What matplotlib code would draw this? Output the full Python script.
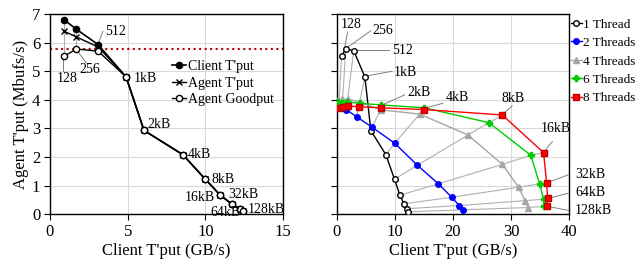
import numpy as np
import matplotlib.pyplot as plt

plt.rcParams['font.family'] = ['Liberation Serif', 'DejaVu Serif']

sizes = ['128', '256', '512', '1kB', '2kB', '4kB', '8kB', '16kB', '32kB', '64kB', '128kB']

# 左图：单线程
client_x = [0.9, 1.7, 3.1, 4.9, 6.05, 8.55, 10.0, 10.95, 11.7, 12.2, 12.4]
client_tput = [6.8, 6.47, 5.93, 4.8, 2.93, 2.08, 1.22, 0.67, 0.35, 0.18, 0.1]
agent_tput = [6.4, 6.2, 5.85, 4.8, 2.93, 2.08, 1.22, 0.67, 0.35, 0.18, 0.1]
agent_goodput = [5.52, 5.78, 5.7, 4.8, 2.93, 2.08, 1.22, 0.67, 0.35, 0.18, 0.1]
limit_line = 5.77

# 右图：多线程 (client GB/s, agent Mbufs/s)
t1_x = [0.86, 1.6, 2.95, 4.88, 5.9, 8.48, 9.97, 10.9, 11.6, 12.1, 12.3]
t1_y = [5.53, 5.79, 5.72, 4.8, 2.92, 2.08, 1.22, 0.66, 0.36, 0.19, 0.08]
t2_x = [0.4, 0.95, 1.7, 3.44, 6.12, 10.0, 13.9, 17.5, 19.8, 21.1, 21.8]
t2_y = [3.76, 3.73, 3.65, 3.41, 3.04, 2.48, 1.71, 1.06, 0.59, 0.30, 0.15]
t4_x = [0.25, 1.0, 2.0, 4.0, 7.56, 14.3, 22.6, 28.5, 31.3, 32.4, 32.9]
t4_y = [4.0, 4.02, 4.02, 3.92, 3.65, 3.5, 2.77, 1.74, 0.94, 0.47, 0.23]
t6_x = [0.3, 1.0, 1.85, 3.95, 7.65, 15.1, 26.2, 33.4, 34.9, 35.6, 35.7]
t6_y = [3.92, 3.9, 3.92, 3.88, 3.82, 3.72, 3.2, 2.06, 1.06, 0.52, 0.27]
t8_x = [0.35, 1.15, 1.95, 3.8, 7.6, 15.0, 28.5, 35.6, 36.1, 36.3, 36.2]
t8_y = [3.72, 3.76, 3.78, 3.76, 3.72, 3.66, 3.47, 2.15, 1.1, 0.55, 0.27]

# 标注位置
left_lbl_pos = {'128': (1.1, 4.76), '256': (2.55, 5.05), '512': (4.2, 6.4),
                '1kB': (5.4, 4.76), '2kB': (6.3, 3.15), '4kB': (8.9, 2.1),
                '8kB': (10.4, 1.2), '16kB': (10.6, 0.58), '32kB': (11.5, 0.67),
                '64kB': (10.3, 0.07), '128kB': (12.75, 0.17)}
left_lbl_ha = {'128': 'center', '256': 'center', '512': 'center', '16kB': 'right',
               '64kB': 'left'}
left_leaders = {'128': [(0.86, 5.45), (0.86, 5.0)],
                '256': [(1.75, 5.72), (2.35, 5.28)],
                '512': [(3.1, 5.95), (3.4, 6.4)]}

right_lbl_pos = {'128': (0.7, 6.63), '256': (6.1, 6.42), '512': (9.5, 5.73),
                 '1kB': (9.9, 4.96), '2kB': (12.1, 4.26), '4kB': (18.7, 4.09),
                 '8kB': (28.4, 4.06), '16kB': (35.1, 3.0), '32kB': (41.0, 1.4),
                 '64kB': (41.0, 0.76), '128kB': (41.0, 0.13)}
right_leaders = {'128': [(1.3, 5.72), (1.9, 6.38)],
                 '256': [(1.8, 5.82), (5.9, 6.42)],
                 '512': [(3.2, 5.73), (9.0, 5.73)],
                 '1kB': [(5.1, 4.83), (9.55, 5.0)],
                 '2kB': [(7.7, 3.81), (11.7, 4.17)],
                 '4kB': [(15.1, 3.7), (18.3, 3.88)],
                 '8kB': [(28.6, 3.5), (30.2, 3.79)],
                 '16kB': [(35.7, 2.2), (37.1, 2.54)],
                 '32kB': [(36.2, 1.1), (39.8, 1.37)],
                 '64kB': [(36.4, 0.55), (39.8, 0.73)],
                 '128kB': [(36.3, 0.27), (39.8, 0.13)]}

fig = plt.figure(figsize=(6.41, 2.71), dpi=100)
ax1 = fig.add_axes([0.078, 0.210, 0.3635, 0.738])
ax2 = fig.add_axes([0.525, 0.210, 0.363, 0.738])

grid_c = '#d9d9d9'
iso_c = '#b0b0b0'
lead_c = '#808080'

for ax in (ax1, ax2):
    ax.set_ylim(0, 7)
    ax.set_yticks(range(0, 8))
    ax.grid(True, color=grid_c, linewidth=0.8)
    ax.set_axisbelow(True)
    ax.tick_params(direction='out', length=4, width=0.8, labelsize=12, pad=3)
    for s in ax.spines.values():
        s.set_linewidth(1.0)
    ax.set_xlabel("Client T'put (GB/s)", fontsize=12, labelpad=2)

# ---- 左图 ----
ax1.set_xlim(0, 15)
ax1.set_xticks([0, 5, 10, 15])
for i in range(3):
    ax1.plot([client_x[i]] * 3, [client_tput[i], agent_tput[i], agent_goodput[i]],
             color=iso_c, lw=0.8, zorder=1)
ax1.axhline(limit_line, color='#c00000', ls=':', lw=1.5, zorder=2)
ax1.plot(client_x, client_tput, '-o', color='black', ms=4.5, lw=1.2, label="Client T'put", zorder=3)
ax1.plot(client_x, agent_tput, '-x', color='black', ms=4.5, lw=1.0, mew=1.0, label="Agent T'put", zorder=3)
ax1.plot(client_x, agent_goodput, '-o', color='black', mfc='white', ms=4.5, lw=1.0,
         label="Agent Goodput", zorder=3)
for lbl, pts in left_leaders.items():
    ax1.plot([p[0] for p in pts], [p[1] for p in pts], color=lead_c, lw=0.7, zorder=2)
for lbl, (tx, ty) in left_lbl_pos.items():
    ax1.text(tx, ty, lbl, fontsize=10, ha=left_lbl_ha.get(lbl, 'left'), va='center', zorder=4)
ax1.set_ylabel("Agent T'put (Mbufs/s)", fontsize=12, labelpad=2)
ax1.legend(loc='upper left', bbox_to_anchor=(0.525, 0.77), frameon=False, fontsize=10,
           handlelength=1.0, handletextpad=0.1, labelspacing=0.25, borderpad=0, borderaxespad=0)

# ---- 右图 ----
ax2.set_xlim(0, 40)
ax2.set_xticks([0, 10, 20, 30, 40])
ax2.tick_params(axis='y', labelleft=False)
series_x = [t1_x, t2_x, t4_x, t6_x, t8_x]
series_y = [t1_y, t2_y, t4_y, t6_y, t8_y]
for i in range(len(sizes)):
    ax2.plot([sx[i] for sx in series_x], [sy[i] for sy in series_y], color=iso_c, lw=0.8, zorder=1)
for lbl, pts in right_leaders.items():
    ax2.plot([p[0] for p in pts], [p[1] for p in pts], color=lead_c, lw=0.7, zorder=1.5, clip_on=False)
ax2.plot(t1_x, t1_y, '-o', color='black', mfc='white', ms=4, lw=1.0, label='1 Thread', zorder=3)
ax2.plot(t2_x, t2_y, '-o', color='#0000ff', ms=4, lw=1.0, label='2 Threads', zorder=3)
ax2.plot(t4_x, t4_y, '-^', color='#a6a6a6', ms=5, lw=1.0, label='4 Threads', zorder=3)
ax2.plot(t6_x, t6_y, '-P', color='#00cc00', ms=4, lw=1.0, label='6 Threads', zorder=3)
ax2.plot(t8_x, t8_y, '-s', color='#ff0000', mec='#c00000', ms=4.5, lw=1.0, label='8 Threads', zorder=4)
for lbl, (tx, ty) in right_lbl_pos.items():
    ax2.text(tx, ty, lbl, fontsize=10, ha='left', va='center', zorder=5, clip_on=False)
ax2.legend(loc='upper left', bbox_to_anchor=(1.0, 0.985), frameon=False, fontsize=9.5,
           handlelength=0.9, handletextpad=0.05, labelspacing=0.47, borderpad=0, borderaxespad=0.1)

fig.savefig('out.png', dpi=100)
